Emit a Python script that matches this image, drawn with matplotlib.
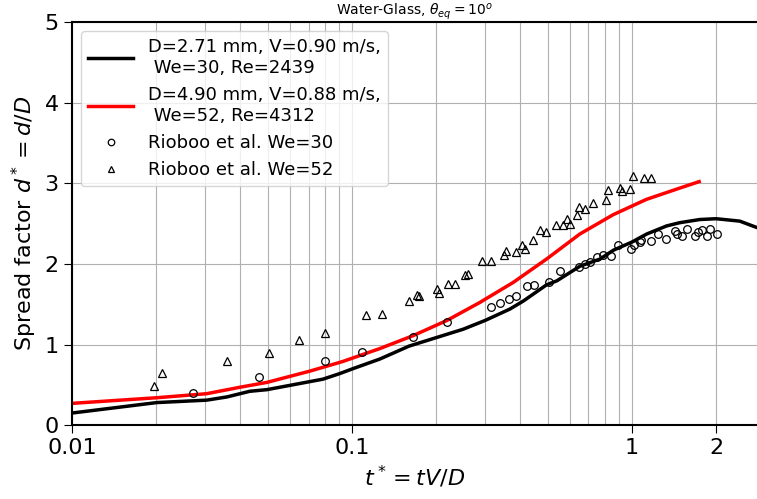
import numpy as np
import matplotlib
matplotlib.use("Agg")
import matplotlib.pyplot as plt

# Simulation curves (t*, d*)
t_we30 = [0.01, 0.0201, 0.0303, 0.0358, 0.0432, 0.0497, 0.0615, 0.0708, 0.0788, 0.0906,
          0.1008, 0.1259, 0.16, 0.25, 0.30, 0.367, 0.41, 0.496, 0.54, 0.652, 0.77, 0.86,
          1.0, 1.13, 1.33, 1.48, 1.75, 2.0, 2.43, 2.8]
d_we30 = [0.15, 0.28, 0.31, 0.35, 0.42, 0.44, 0.50, 0.54, 0.57, 0.64,
          0.70, 0.82, 0.98, 1.19, 1.30, 1.44, 1.54, 1.74, 1.79, 1.97, 2.06, 2.17,
          2.27, 2.37, 2.47, 2.51, 2.55, 2.56, 2.53, 2.45]

t_we52 = [0.01, 0.0201, 0.0303, 0.0398, 0.0497, 0.0708, 0.0929, 0.1259, 0.1655, 0.219,
          0.286, 0.377, 0.496, 0.652, 0.858, 1.128, 1.484, 1.74]
d_we52 = [0.27, 0.34, 0.39, 0.47, 0.53, 0.67, 0.79, 0.95, 1.11, 1.30,
          1.52, 1.77, 2.06, 2.37, 2.61, 2.80, 2.94, 3.02]

# Rioboo et al. experiments
t_exp30 = [0.0271, 0.0467, 0.0803, 0.1083, 0.1647, 0.219, 0.314, 0.338, 0.365, 0.387,
           0.421, 0.448, 0.507, 0.556, 0.648, 0.68, 0.708, 0.752, 0.786, 0.846,
           0.894, 0.997, 1.016, 1.068, 1.077, 1.175, 1.241, 1.33, 1.424, 1.45,
           1.505, 1.576, 1.679, 1.725, 1.774, 1.849, 1.91, 2.017]
d_exp30 = [0.40, 0.60, 0.80, 0.91, 1.09, 1.28, 1.46, 1.51, 1.56, 1.60,
           1.72, 1.74, 1.78, 1.91, 1.96, 2.00, 2.02, 2.09, 2.11, 2.10,
           2.23, 2.19, 2.23, 2.27, 2.30, 2.28, 2.37, 2.31, 2.41, 2.37,
           2.35, 2.43, 2.35, 2.39, 2.42, 2.35, 2.43, 2.37]

t_exp52 = [0.0196, 0.0209, 0.0359, 0.0504, 0.065, 0.0799, 0.112, 0.128, 0.160, 0.171,
           0.173, 0.2017, 0.205, 0.2208, 0.2333, 0.2533, 0.2604, 0.2905, 0.3128, 0.35,
           0.355, 0.385, 0.406, 0.417, 0.444, 0.469, 0.493, 0.538, 0.568, 0.587,
           0.60, 0.638, 0.648, 0.68, 0.727, 0.807, 0.823, 0.906, 0.926, 0.989,
           1.006, 1.104, 1.175]
d_exp52 = [0.48, 0.65, 0.80, 0.89, 1.05, 1.14, 1.37, 1.38, 1.54, 1.61,
           1.60, 1.69, 1.64, 1.75, 1.75, 1.86, 1.88, 2.03, 2.03, 2.11,
           2.16, 2.15, 2.23, 2.19, 2.30, 2.42, 2.40, 2.48, 2.48, 2.56,
           2.50, 2.61, 2.70, 2.68, 2.76, 2.79, 2.91, 2.94, 2.90, 2.93,
           3.09, 3.06, 3.07]

fig = plt.figure(figsize=(7.57, 4.99), dpi=100)
ax = fig.add_axes([0.095, 0.148, 0.905, 0.808])

ax.plot(t_we30, d_we30, color="black", lw=2.5,
        label="D=2.71 mm, V=0.90 m/s,\n We=30, Re=2439")
ax.plot(t_we52, d_we52, color="red", lw=2.5,
        label="D=4.90 mm, V=0.88 m/s,\n We=52, Re=4312")
ax.plot(t_exp30, d_exp30, "o", mfc="none", mec="black", ms=5.5, mew=0.9,
        label="Rioboo et al. We=30")
ax.plot(t_exp52, d_exp52, "^", mfc="none", mec="black", ms=5.5, mew=0.9,
        label="Rioboo et al. We=52")

ax.set_xscale("log")
ax.set_xlim(0.01, 2.8)
ax.set_ylim(0, 5)
ax.set_xticks([0.01, 0.1, 1, 2])
ax.set_xticklabels(["0.01", "0.1", "1", "2"])
ax.set_yticks([0, 1, 2, 3, 4, 5])
ax.tick_params(axis="both", labelsize=16, length=6)
ax.tick_params(axis="x", which="minor", length=0)

ax.grid(True, which="major", axis="both", color="#b0b0b0", lw=0.8)
ax.grid(True, which="minor", axis="x", color="#b0b0b0", lw=0.8)

ax.spines["right"].set_visible(False)
for s in ["left", "bottom", "top"]:
    ax.spines[s].set_linewidth(1.5)

ax.set_xlabel(r"$t^* = tV/D$", fontsize=16)
ax.set_ylabel(r"Spread factor $d^* = d/D$", fontsize=16)
ax.set_title(r"Water-Glass, $\theta_{eq} = 10^o$", fontsize=10, pad=3)

ax.legend(loc="upper left", fontsize=13, markerscale=0.85, handlelength=2.5)

fig.savefig("out.png", dpi=100)
